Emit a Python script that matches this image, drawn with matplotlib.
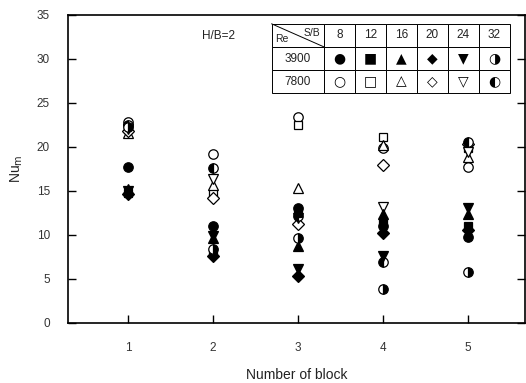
import matplotlib.pyplot as plt
from matplotlib.lines import Line2D

plt.rcParams['font.family'] = ['Liberation Sans', 'DejaVu Sans']

# -----------------------------
# Data
# -----------------------------
blocks = [1, 2, 3, 4, 5]
sb_values = [8, 12, 16, 20, 24, 32]

# Re = 3900 (filled symbols), one list per S/B
nu_3900_sb8 = [17.7, 11.0, 13.1, 11.0, 9.8]
nu_3900_sb12 = [14.8, 8.0, 12.5, 11.6, 11.0]
nu_3900_sb16 = [15.2, 9.6, 8.7, 12.4, 12.4]
nu_3900_sb20 = [14.6, 7.6, 5.3, 10.2, 10.5]
nu_3900_sb24 = [15.0, 9.9, 6.1, 7.6, 13.0]
nu_3900_sb32 = [22.3, 8.4, 9.6, 3.9, 5.8]

# Re = 7800 (open symbols)
nu_7800_sb8 = [22.8, 19.2, 23.4, 19.9, 17.7]
nu_7800_sb12 = [22.0, 14.8, 22.5, 21.1, 19.9]
nu_7800_sb16 = [21.6, 15.7, 15.3, 20.2, 18.9]
nu_7800_sb20 = [21.8, 14.2, 11.2, 17.9, 20.3]
nu_7800_sb24 = [22.0, 16.3, 11.9, 13.2, 19.4]
nu_7800_sb32 = [22.5, 17.6, 12.2, 6.9, 20.6]

re_values = ["3900", "7800"]
sym_3900 = ["●", "■", "▲", "◆", "▼", "◑"]
sym_7800 = ["○", "□", "△", "◇", "▽", "◐"]

series_3900 = [nu_3900_sb8, nu_3900_sb12, nu_3900_sb16,
               nu_3900_sb20, nu_3900_sb24, nu_3900_sb32]
series_7800 = [nu_7800_sb8, nu_7800_sb12, nu_7800_sb16,
               nu_7800_sb20, nu_7800_sb24, nu_7800_sb32]

markers = ["o", "s", "^", "D", "v", "o"]
sizes = [6.8, 6.2, 6.8, 5.8, 6.8, 6.8]

fig = plt.figure(figsize=(5.26, 3.83), dpi=100)
ax = fig.add_axes([0.129, 0.157, 0.869, 0.804])

for vals, m, s in zip(series_7800, markers, sizes):
    if vals is nu_7800_sb32:
        kw = dict(fillstyle="left", markerfacecolor="black",
                  markerfacecoloralt="white")
    else:
        kw = dict(markerfacecolor="white")
    ax.plot(blocks, vals, linestyle="none", marker=m, markersize=s,
            markeredgecolor="black", markeredgewidth=0.9, **kw)

for vals, m, s in zip(series_3900, markers, sizes):
    if vals is nu_3900_sb32:
        kw = dict(fillstyle="right", markerfacecolor="black",
                  markerfacecoloralt="white")
    else:
        kw = dict(markerfacecolor="black")
    ax.plot(blocks, vals, linestyle="none", marker=m, markersize=s,
            markeredgecolor="black", markeredgewidth=0.9, **kw)

ax.set_xlim(0.29, 5.67)
ax.set_ylim(0, 35)
ax.set_xticks(blocks)
ax.set_yticks(range(0, 36, 5))
ax.tick_params(direction="in", right=True, length=6, width=1,
               labelsize=8.5, labelcolor="#333333")
ax.tick_params(axis="x", pad=14)
ax.tick_params(axis="y", pad=13)
for sp in ax.spines.values():
    sp.set_linewidth(1.2)

ax.set_xlabel("Number of block", fontsize=10, color="#222222", labelpad=10)
ax.set_ylabel(r"Nu$_{\rm m}$", fontsize=10, color="#222222", labelpad=8)

ax.text(0.33, 0.93, "H/B=2", transform=ax.transAxes, fontsize=8.5,
        color="#222222", ha="center", va="center")

# -----------------------------
# Symbol table (top right)
# -----------------------------
tx0, ty0, tw, th = 0.446, 0.746, 0.521, 0.225
first_w = 0.22
col_w = (1 - first_w) / len(sb_values)
cell_text = [[""] + [str(v) for v in sb_values],
             [re_values[0]] + sym_3900,
             [re_values[1]] + sym_7800]
tab = ax.table(cellText=cell_text, bbox=[tx0, ty0, tw, th],
               colWidths=[first_w] + [col_w] * len(sb_values),
               cellLoc="center")
tab.auto_set_font_size(False)
tab.set_fontsize(8.5)
for (r, c), cell in tab.get_celld().items():
    cell.set_linewidth(0.7)
    cell.get_text().set_color("#222222")
    if c > 0 and r > 0:
        cell.get_text().set_fontfamily("DejaVu Sans")
        cell.get_text().set_fontsize(10)
        cell.get_text().set_color("black")

# diagonal header cell
x_a = tx0
x_b = tx0 + tw * first_w
y_top = ty0 + th
y_bot = ty0 + th * 2 / 3
ax.add_line(Line2D([x_a, x_b], [y_top, y_bot], transform=ax.transAxes,
                   color="black", linewidth=0.7))
ax.text(x_b - 0.008, y_top - 0.012, "S/B", transform=ax.transAxes,
        fontsize=7.5, ha="right", va="top", color="#222222")
ax.text(x_a + 0.008, y_bot + 0.008, "Re", transform=ax.transAxes,
        fontsize=7.5, ha="left", va="bottom", color="#222222")

fig.savefig("out.png", dpi=100)
